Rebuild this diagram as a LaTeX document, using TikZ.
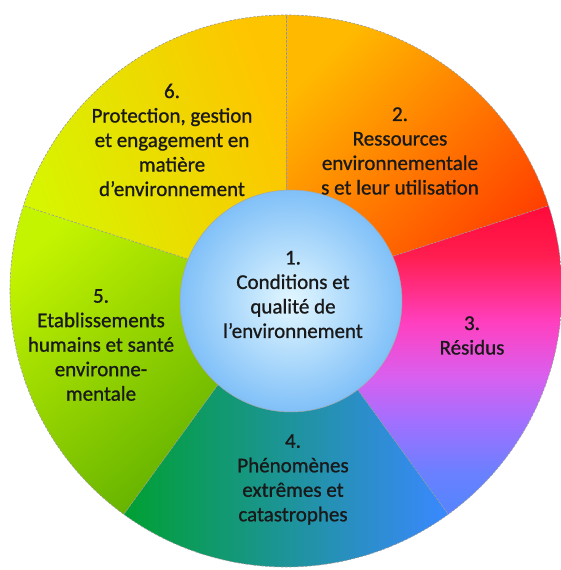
\documentclass[tikz,border=0pt]{standalone}
\usepackage{fontspec}
\setmainfont{Carlito}
\newfontfamily\labelfont{Carlito}[FakeBold=0.9, Ligatures=TeX]

% sector colours
\definecolor{protA}{HTML}{FFC400}
\definecolor{protM}{HTML}{FFE000}
\definecolor{protB}{HTML}{D6F600}
\definecolor{ressA}{HTML}{FFBA00}
\definecolor{ressB}{HTML}{FF3C00}
\definecolor{resA}{HTML}{FF0A3A}
\definecolor{resB}{HTML}{FF1E50}
\definecolor{resC}{HTML}{FF40C0}
\definecolor{resD}{HTML}{D860F0}
\definecolor{resE}{HTML}{A070FF}
\definecolor{resF}{HTML}{6A80FF}
\definecolor{resG}{HTML}{5A84FF}
\definecolor{phenA}{HTML}{00A032}
\definecolor{phenB}{HTML}{2099C4}
\definecolor{phenC}{HTML}{3A88FF}
\definecolor{etabA}{HTML}{C4F400}
\definecolor{etabM}{HTML}{A2DC00}
\definecolor{etabB}{HTML}{58AA00}
\definecolor{condIn}{HTML}{E2F7FF}
\definecolor{condOut}{HTML}{80C0F8}

% red-pink-violet-blue run for the "Résidus" sector
\pgfdeclareverticalshading{residus}{100bp}{%
  color(0bp)=(resG); color(27bp)=(resG); color(31.7bp)=(resF);
  color(39.8bp)=(resE); color(47.2bp)=(resD); color(56bp)=(resC);
  color(66.7bp)=(resB); color(75bp)=(resA); color(100bp)=(resA)}

\begin{document}
\begin{tikzpicture}[x=1pt,y=1pt,
  txt/.style={align=center, text=black!90, inner sep=0pt,
    font=\labelfont\fontsize{21}{24.5}\selectfont},
  divider/.style={draw=black!40, line width=0.6pt, dash pattern=on 2.5pt off 1.5pt},
]
\useasboundingbox (0,0) rectangle (561,570);
\coordinate (O) at (286,279);
\def\R{276}

% outer ring of five sectors
\shade[top color=protA, middle color=protM, bottom color=protB, shading angle=-70]
  (O) -- ++(90:\R) arc[start angle=90, end angle=162, radius=\R] -- cycle;
\shade[top color=ressA, bottom color=ressB, shading angle=45]
  (O) -- ++(18:\R) arc[start angle=18, end angle=90, radius=\R] -- cycle;
\shade[shading=residus]
  (O) -- ++(-54:\R) arc[start angle=-54, end angle=18, radius=\R] -- cycle;
\shade[left color=phenA, middle color=phenB, right color=phenC]
  (O) -- ++(-126:\R) arc[start angle=-126, end angle=-54, radius=\R] -- cycle;
\shade[top color=etabA, middle color=etabM, bottom color=etabB, shading angle=40]
  (O) -- ++(162:\R) arc[start angle=162, end angle=234, radius=\R] -- cycle;

% sector borders
\foreach \a in {90,18,-54,-126,162}
  \draw[divider] (O) -- ++(\a:\R);
\draw[divider] (O) circle[radius=\R];

% central disc
\node[circle, minimum size=222pt, inner sep=0pt, inner color=condIn,
  outer color=condOut, draw=black!35, line width=0.5pt] (core) at (291,269) {};

% labels
\node[txt] (t1) at (293,275.5) {1.\\Conditions et\\qualité de\\l’environnement};
\node[txt] (t2) at (400,419) {2.\\Ressources\\environnementale\\s et leur utilisation};
\node[txt] (t3) at (472,234.5) {3.\\Résidus};
\node[txt] (t4) at (293,90.5) {4.\\Phénomènes\\extrêmes et\\catastrophes};
\node[txt] (t5) at (101,225) {5.\\Etablissements\\humains et santé\\environne-\\mentale};
\node[txt] (t6) at (172,430) {6.\\Protection, gestion\\et engagement en\\matière\\d’environnement};
\end{tikzpicture}
\end{document}
